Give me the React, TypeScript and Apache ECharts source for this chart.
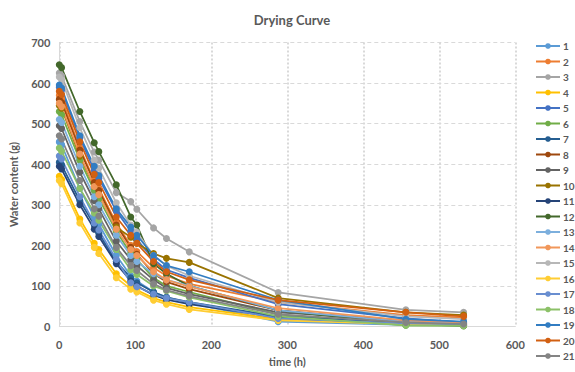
import React, { useEffect, useRef } from "react";
import * as echarts from "echarts";

const times = [0, 3, 27, 46, 52, 75, 94, 102, 124, 141, 171, 288, 456, 532];
const seriesNames = ["1","2","3","4","5","6","7","8","9","10","11","12","13","14","15","16","17","18","19","20","21"];
const colors = ["#5B9BD5","#ED7D31","#A5A5A5","#FFC000","#4472C4","#70AD47","#255E91","#9E480E","#636363","#997300","#264478","#43682B","#7CAFDD","#F1975A","#B7B7B7","#FFCD33","#698ED0","#8CC168","#327DC2","#D26012","#848484"];

const s1 = [455, 448, 340, 270, 252, 175, 125, 112, 85, 72, 58, 12, 4, 3];
const s2 = [570, 562, 440, 360, 340, 255, 200, 185, 145, 125, 105, 60, 28, 22];
const s3 = [625, 618, 505, 430, 410, 330, 308, 289, 243, 217, 184, 84, 41, 35];
const s4 = [370, 362, 265, 205, 190, 130, 100, 90, 70, 60, 48, 18, 8, 5];
const s5 = [590, 582, 465, 385, 365, 285, 235, 215, 165, 140, 120, 55, 20, 10];
const s6 = [530, 522, 410, 335, 315, 235, 180, 165, 120, 100, 85, 30, 3, 2];
const s7 = [405, 398, 310, 250, 230, 160, 120, 108, 85, 72, 60, 25, 8, 6];
const s8 = [560, 552, 435, 355, 335, 250, 195, 178, 130, 110, 92, 40, 12, 8];
const s9 = [495, 488, 380, 310, 290, 210, 165, 150, 115, 95, 80, 35, 15, 10];
const s10 = [545, 538, 420, 345, 325, 245, 220, 205, 180, 168, 158, 70, 35, 28];
const s11 = [395, 388, 300, 240, 222, 155, 112, 100, 78, 66, 55, 22, 6, 4];
const s12 = [645, 638, 530, 453, 431, 349, 270, 250, 155, 130, 100, 40, 5, 2];
const s13 = [510, 503, 395, 320, 300, 225, 175, 160, 130, 115, 100, 40, 12, 8];
const s14 = [550, 542, 425, 345, 325, 240, 190, 175, 135, 115, 98, 45, 15, 10];
const s15 = [615, 608, 490, 410, 390, 305, 250, 232, 175, 150, 125, 60, 25, 18];
const s16 = [360, 352, 255, 195, 180, 120, 92, 85, 65, 55, 42, 15, 6, 4];
const s17 = [420, 413, 320, 255, 238, 165, 108, 98, 80, 70, 60, 20, 8, 5];
const s18 = [440, 432, 340, 280, 262, 190, 140, 128, 100, 88, 72, 25, 3, 2];
const s19 = [595, 588, 470, 395, 372, 290, 245, 225, 175, 150, 135, 65, 18, 12];
const s20 = [580, 572, 455, 375, 355, 270, 225, 205, 160, 135, 115, 65, 35, 25];
const s21 = [470, 462, 360, 290, 272, 195, 150, 138, 105, 90, 75, 30, 10, 6];

const allValues = [s1,s2,s3,s4,s5,s6,s7,s8,s9,s10,s11,s12,s13,s14,s15,s16,s17,s18,s19,s20,s21];

const FONT = "Lato, 'Open Sans', sans-serif";
const TXT = "#595959";

export default function App() {
  const ref = useRef<HTMLDivElement>(null);
  useEffect(() => {
    if (!ref.current) return;
    const chart = echarts.init(ref.current, null, { renderer: "svg" });
    chart.setOption({
      animation: false,
      backgroundColor: "#ffffff",
      textStyle: { fontFamily: FONT },
      title: {
        text: "Drying Curve",
        left: 287,
        textAlign: "center",
        top: 8,
        textStyle: { fontSize: 13, fontWeight: "bold", color: TXT, fontFamily: FONT },
      },
      legend: {
        orient: "vertical",
        left: 535,
        top: 40,
        bottom: 0,
        padding: 0,
        itemWidth: 24,
        itemHeight: 7,
        itemGap: 3.5,
        data: seriesNames,
        textStyle: { fontSize: 10, lineHeight: 12, fontWeight: "bold", color: TXT, fontFamily: FONT, padding: [0, 0, 0, -2] },
      },
      grid: { left: 59.3, right: 59.7, top: 42.5, bottom: 45.5, containLabel: false },
      xAxis: {
        type: "value",
        min: 0,
        max: 600,
        interval: 100,
        name: "time (h)",
        nameLocation: "middle",
        nameGap: 29,
        nameTextStyle: { fontSize: 11, fontWeight: "bold", color: TXT, fontFamily: FONT },
        axisLine: { show: true, lineStyle: { color: "#D9D9D9", width: 1 } },
        axisTick: { show: false },
        axisLabel: { margin: 12, fontSize: 11, fontWeight: "bold", color: TXT, fontFamily: FONT },
        splitLine: { show: true, lineStyle: { color: "#D9D9D9", type: [2, 2], width: 2 } },
      },
      yAxis: {
        type: "value",
        min: 0,
        max: 700,
        interval: 100,
        name: "Water content (g)",
        nameLocation: "middle",
        nameGap: 40,
        nameRotate: 90,
        nameTextStyle: { fontSize: 11, fontWeight: "bold", color: TXT, fontFamily: FONT },
        axisLine: { show: true, lineStyle: { color: "#D9D9D9", width: 1 } },
        axisTick: { show: false },
        axisLabel: { margin: 9, fontSize: 11, fontWeight: "bold", color: TXT, fontFamily: FONT },
        splitLine: { show: true, lineStyle: { color: "#D9D9D9", type: [4, 3], width: 1 } },
      },
      series: seriesNames.map((n, i) => ({
        name: n,
        type: "line",
        data: times.map((t, j) => [t, allValues[i][j]]),
        symbol: "circle",
        symbolSize: 7,
        color: colors[i],
        lineStyle: { width: 1.75, color: colors[i] },
        itemStyle: { color: colors[i] },
      })),
    });
    return () => chart.dispose();
  }, []);
  return <div ref={ref} style={{ width: 575, height: 372, position: "absolute", left: 0, top: 0 }} />;
}
